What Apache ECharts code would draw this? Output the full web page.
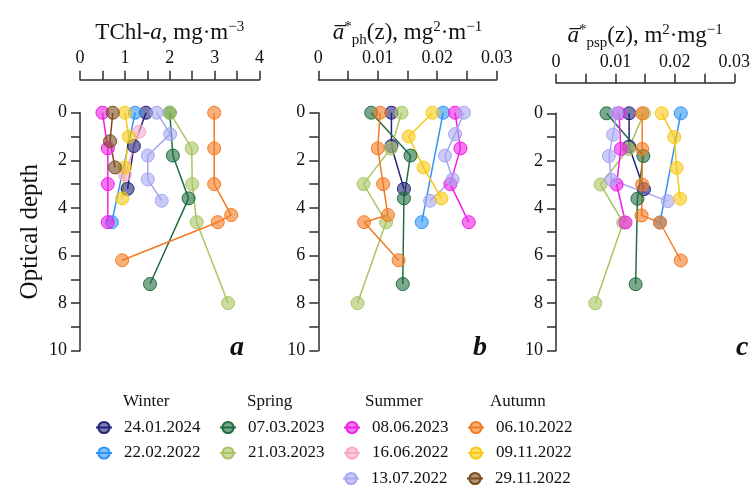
<!DOCTYPE html>
<html>
<head>
<meta charset="utf-8">
<script src="https://cdn.jsdelivr.net/npm/echarts@6/dist/echarts.min.js"></script>
<style>
  html, body { margin: 0; padding: 0; background: #fff; }
  #chart { width: 754px; height: 486px; }
</style>
</head>
<body>
<div id="chart"></div>
<script>
// ---- data ----
const dates = ['24.01.2024', '22.02.2022', '07.03.2023', '21.03.2023', '08.06.2023',
               '16.06.2022', '13.07.2022', '06.10.2022', '09.11.2022', '29.11.2022'];
const seasons = ['Winter', 'Spring', 'Summer', 'Autumn'];
// legend rows (columns are seasons: Winter, Spring, Summer, Autumn)
const legendRow1 = ['24.01.2024', '07.03.2023', '08.06.2023', '06.10.2022'];
const legendRow2 = ['22.02.2022', '21.03.2023', '16.06.2022', '09.11.2022'];
const legendRow3 = ['13.07.2022', '29.11.2022'];
// optical depths of each sample, per date (same order as dates)
const depths = [
  [0, 1.4, 3.2],
  [0, 4.6],
  [0, 1.8, 3.6, 7.2],
  [0, 1.5, 3.0, 4.6, 8.0],
  [0, 1.5, 3.0, 4.6],
  [0.8, 2.6],
  [0, 0.9, 1.8, 2.8, 3.7],
  [0, 1.5, 3.0, 4.3, 4.6, 6.2],
  [0, 1.0, 2.3, 3.6],
  [0, 1.2, 2.3]
];
// panel a: TChl-a, mg m-3
const tchl = [
  [1.47, 1.2, 1.06],
  [1.23, 0.71],
  [2.0, 2.07, 2.42, 1.56],
  [2.0, 2.49, 2.5, 2.6, 3.3],
  [0.5, 0.62, 0.62, 0.62],
  [1.32, 1.0],
  [1.71, 2.01, 1.51, 1.51, 1.82],
  [2.99, 2.99, 2.99, 3.37, 3.07, 0.94],
  [1.0, 1.09, 1.0, 0.94],
  [0.73, 0.67, 0.78]
];
// panel b: mean a*ph(z), m2 mg-1
const aph = [
  [0.0123, 0.0123, 0.0144],
  [0.0210, 0.0174],
  [0.0089, 0.0155, 0.0144, 0.0142],
  [0.0140, 0.0122, 0.0076, 0.0114, 0.0066],
  [0.0230, 0.0239, 0.0222, 0.0253],
  [],
  [0.0245, 0.0230, 0.0213, 0.0226, 0.0188],
  [0.0104, 0.0100, 0.0109, 0.0117, 0.0077, 0.0135],
  [0.0192, 0.0152, 0.0177, 0.0207],
  []
];
// panel c: mean a*psp(z), m2 mg-1
const apsp = [
  [0.0123, 0.0123, 0.0148],
  [0.0210, 0.0175],
  [0.0085, 0.0147, 0.0137, 0.0134],
  [0.0148, 0.0122, 0.0075, 0.0113, 0.0066],
  [0.0106, 0.0109, 0.0102, 0.0117],
  [],
  [0.0102, 0.0096, 0.0089, 0.0093, 0.0188],
  [0.0145, 0.0145, 0.0145, 0.0144, 0.0175, 0.0210],
  [0.0178, 0.0199, 0.0203, 0.0209],
  []
];
const xTicksA = [0, 1, 2, 3, 4];
const xTicksBC = [0, 0.01, 0.02, 0.03];
const yTicks = [0, 2, 4, 6, 8, 10];

// ---- styles ----
const colors = ['#23237a', '#2f95f5', '#1f6e40', '#a9c563', '#f01ee6',
                '#f5a8c8', '#a6a6f2', '#f47a22', '#f7c814', '#7b4b1e'];
const FONT = '"Liberation Serif", "Times New Roman", serif';
const AX = '#2b2b2b';

const chart = echarts.init(document.getElementById('chart'), null, { renderer: 'canvas' });

const grids = [
  { left: 80, top: 112.7, width: 179.5, height: 238 },
  { left: 318.3, top: 112.7, width: 178.4, height: 238 },
  { left: 556, top: 113.3, width: 178.3, height: 237.4 }
];

const richTitle = {
  t: { fontFamily: FONT, fontSize: 23, lineHeight: 30, color: '#111' },
  i: { fontFamily: FONT, fontSize: 23, lineHeight: 30, fontStyle: 'italic', color: '#111' },
  o: { fontFamily: FONT, fontSize: 23, lineHeight: 30, fontStyle: 'italic', color: '#111' },
  sup: { fontFamily: FONT, fontSize: 15, lineHeight: 15, verticalAlign: 'top', padding: [2, 0, 0, 0], color: '#111' },
  sub: { fontFamily: FONT, fontSize: 15, lineHeight: 15, verticalAlign: 'bottom', color: '#111' }
};
const titles = [
  '{t|TChl-}{i|a}{t|, mg·m}{sup|−3}',
  '{o|a\u0305}{sup|*}{sub|ph}{t|(z), mg}{sup|2}{t|·m}{sup|−1}',
  '{o|a\u0305}{sup|*}{sub|psp}{t|(z), m}{sup|2}{t|·mg}{sup|−1}'
];
const xMax = [4, 0.03, 0.03];
const xInt = [1, 0.01, 0.01];
const xOff = [33, 33, 30.5];

const xAxes = [0, 1, 2].map(k => ({
  type: 'value', gridIndex: k, position: 'top', offset: xOff[k],
  min: 0, max: xMax[k], interval: xInt[k],
  name: titles[k], nameLocation: 'middle', nameGap: 32,
  nameTextStyle: { rich: richTitle },
  axisLine: { show: true, onZero: false, lineStyle: { color: AX, width: 1.5 } },
  axisTick: { show: true, length: 9, lineStyle: { color: AX, width: 1.5 } },
  minorTick: { show: true, splitNumber: 2, length: 9, lineStyle: { color: AX, width: 1.5 } },
  splitLine: { show: false },
  axisLabel: {
    margin: 12, fontFamily: FONT, fontSize: 18, color: '#111',
    formatter: v => {
      const ticks = k === 0 ? xTicksA : xTicksBC;
      const m = ticks.find(t => Math.abs(t - v) < 1e-9);
      return m === undefined ? '' : String(m);
    }
  }
}));

const yAxes = [0, 1, 2].map(k => ({
  type: 'value', gridIndex: k, inverse: true, min: 0, max: 10, interval: 2,
  name: k === 0 ? 'Optical depth' : '', nameLocation: 'middle', nameGap: 37,
  nameTextStyle: { fontFamily: FONT, fontSize: 25, color: '#111' },
  axisLine: { show: true, onZero: false, lineStyle: { color: AX, width: 1.5 } },
  axisTick: { show: true, length: 9, lineStyle: { color: AX, width: 1.5 } },
  minorTick: { show: true, splitNumber: 2, length: 9, lineStyle: { color: AX, width: 1.5 } },
  splitLine: { show: false },
  axisLabel: {
    margin: 13, fontFamily: FONT, fontSize: 18, color: '#111',
    formatter: v => { const m = yTicks.find(t => t === v); return m === undefined ? '' : String(m); }
  }
}));

const panelValues = [tchl, aph, apsp];
const series = [];
[0, 1, 2].forEach(k => {
  dates.forEach((d, i) => {
    const vals = panelValues[k][i];
    series.push({
      type: 'line', name: d, xAxisIndex: k, yAxisIndex: k,
      data: vals.map((v, j) => [v, depths[i][j]]),
      symbol: 'circle', symbolSize: 13, showSymbol: true,
      lineStyle: { color: colors[i], width: 1.5 },
      itemStyle: { color: echarts.color.modifyAlpha(colors[i], 0.6), borderColor: colors[i], borderWidth: 1 },
      emphasis: { disabled: true },
      animation: false
    });
  });
});

const legendRows = [[legendRow1, 95, 419], [legendRow2, 95, 444.5], [legendRow3, 342, 470]];
const legends = legendRows.map(([list, left, top]) => ({
  data: list, orient: 'horizontal', left: left, top: top,
  padding: 0,
  itemWidth: 16, itemHeight: 14, itemGap: 18.5,
  selectedMode: false,
  textStyle: { fontFamily: FONT, fontSize: 17, color: '#111', padding: [0, 0, 0, 7] }
}));

const headerLeft = [123, 247, 365, 490];
const letters = [['a', 230], ['b', 473], ['c', 736]];
const graphic = seasons.map((s, c) => ({
  type: 'text', left: headerLeft[c], top: 393,
  style: { text: s, font: '17px ' + FONT, fill: '#111' }
})).concat(letters.map(([l, x]) => ({
  type: 'text', left: x, top: 334,
  style: { text: l, font: 'italic bold 28px ' + FONT, fill: '#111' }
})));

chart.setOption({
  animation: false,
  grid: grids.map(g => Object.assign({ containLabel: false }, g)),
  xAxis: xAxes,
  yAxis: yAxes,
  series: series,
  legend: legends,
  graphic: graphic
});
</script>
</body>
</html>
